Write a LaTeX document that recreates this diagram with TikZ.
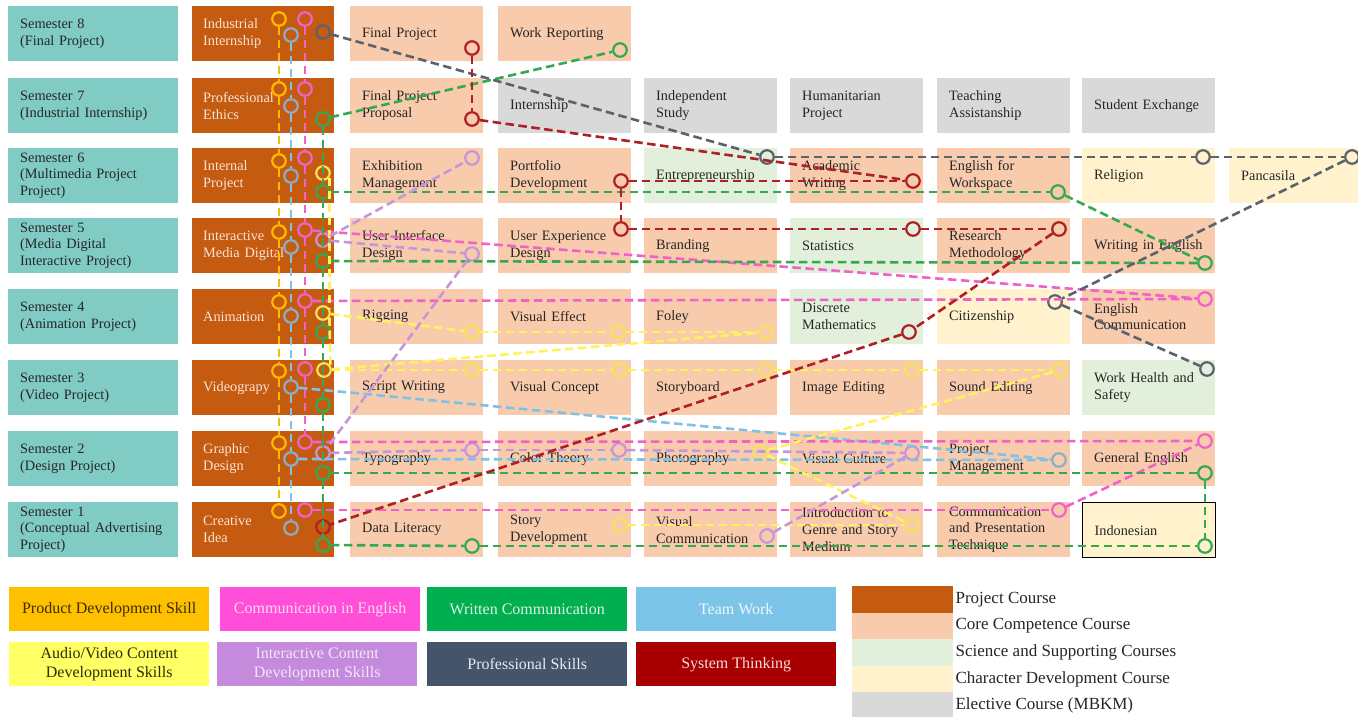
\documentclass[tikz,border=0pt]{standalone}
\usepackage{fontspec}
\setmainfont{Liberation Serif}
\definecolor{semc}{HTML}{80CBC4}
\definecolor{projc}{HTML}{C55A11}
\definecolor{projtxt}{HTML}{FBE5D6}
\definecolor{corec}{HTML}{F8CBAD}
\definecolor{scic}{HTML}{E2EFDA}
\definecolor{charc}{HTML}{FFF2CC}
\definecolor{elec}{HTML}{D9D9D9}
\definecolor{txt}{HTML}{262626}
\definecolor{lorange}{HTML}{FFBA00}
\definecolor{lblue}{HTML}{7EC3E6}
\definecolor{bcirc}{HTML}{8AAFC4}
\definecolor{lpink}{HTML}{F062C8}
\definecolor{lgreen}{HTML}{35A852}
\definecolor{lyellow}{HTML}{FFF25C}
\definecolor{ycirc}{HTML}{F3E35A}
\definecolor{lpurple}{HTML}{C597DA}
\definecolor{lgray}{HTML}{59636E}
\definecolor{lred}{HTML}{AE2024}
\definecolor{kProd}{HTML}{FFC000}
\definecolor{kComm}{HTML}{FF4FD8}
\definecolor{kWrit}{HTML}{00B050}
\definecolor{kTeam}{HTML}{7CC4E8}
\definecolor{kAV}{HTML}{FFFF66}
\definecolor{kInt}{HTML}{C48BDC}
\definecolor{kProf}{HTML}{44546A}
\definecolor{kSys}{HTML}{A80000}
\definecolor{tProd}{HTML}{3D2B00}
\definecolor{tComm}{HTML}{FFD8F4}
\definecolor{tWrit}{HTML}{DDF3E2}
\definecolor{tTeam}{HTML}{EEF8FD}
\definecolor{tAV}{HTML}{2E2E00}
\definecolor{tInt}{HTML}{F3E6FA}
\definecolor{tProf}{HTML}{E8EBF0}
\definecolor{tSys}{HTML}{FADADA}
\newcommand\crsfont{\fontsize{14.3}{16.8}\selectfont}
\newcommand\lgfont{\fontsize{16}{18.5}\selectfont}
\tikzset{
  bx/.style={anchor=north west, minimum height=55pt, inner xsep=12pt, inner ysep=0pt, align=left, text=txt, font=\crsfont},
  cw/.style={minimum width=133pt, text width=109pt},
  semb/.style={bx, fill=semc, minimum width=170pt, text width=146pt},
  projb/.style={bx, fill=projc, minimum width=142pt, text width=120pt, inner xsep=11pt, text=projtxt},
  core/.style={bx, cw, fill=corec},
  sci/.style={bx, cw, fill=scic},
  chr/.style={bx, cw, fill=charc},
  ele/.style={bx, cw, fill=elec},
  ln/.style={line width=2.6pt, dash pattern=on 8.5pt off 4.5pt},
  ring/.style={circle, draw=#1, line width=2.2pt, minimum size=13.5pt, inner sep=0pt},
  lgbox/.style={anchor=north west, minimum width=200pt, minimum height=44pt, inner sep=0pt, align=center, font=\lgfont},
  sw/.style={anchor=north west, minimum width=101pt, minimum height=26.5pt, inner sep=0pt},
  swt/.style={anchor=west, inner sep=0pt, font=\fontsize{17}{19}\selectfont, text=txt},
}
\begin{document}
\begin{tikzpicture}[x=1pt, y=-1pt]
\useasboundingbox[fill=white] (0,0) rectangle (1358,716);
% semester boxes
\node[semb] (s8) at (8,6) {Semester 8\\(Final Project)};
\node[semb] (s7) at (8,78) {Semester 7\\(Industrial Internship)};
\node[semb] (s6) at (8,148) {Semester 6\\(Multimedia Project\\Project)};
\node[semb] (s5) at (8,218) {Semester 5\\(Media Digital\\Interactive Project)};
\node[semb] (s4) at (8,289) {Semester 4\\(Animation Project)};
\node[semb] (s3) at (8,360) {Semester 3\\(Video Project)};
\node[semb] (s2) at (8,431) {Semester 2\\(Design Project)};
\node[semb] (s1) at (8,502) {Semester 1\\(Conceptual Advertising\\Project)};
% project boxes
\node[projb] (j8) at (192,6) {Industrial\\Internship};
\node[projb] (j7) at (192,78) {Professional\\Ethics};
\node[projb] (j6) at (192,148) {Internal\\Project};
\node[projb] (j5) at (192,218) {Interactive\\Media Digital};
\node[projb] (j4) at (192,289) {Animation};
\node[projb] (j3) at (192,360) {Videograpy};
\node[projb] (j2) at (192,431) {Graphic\\Design};
\node[projb] (j1) at (192,502) {Creative\\Idea};
% row 8
\node[core] (c81) at (350,6) {Final Project};
\node[core] (c82) at (498,6) {Work Reporting};
% row 7
\node[core] (c71) at (350,78) {Final Project\\Proposal};
\node[ele] (c72) at (498,78) {Internship};
\node[ele] (c73) at (644,78) {Independent\\Study};
\node[ele] (c74) at (790,78) {Humanitarian\\Project};
\node[ele] (c75) at (937,78) {Teaching\\Assistanship};
\node[ele] (c76) at (1082,78) {Student Exchange};
% row 6
\node[core] (c61) at (350,148) {Exhibition\\Management};
\node[core] (c62) at (498,148) {Portfolio\\Development};
\node[sci] (c63) at (644,148) {Entrepreneurship};
\node[core] (c64) at (790,148) {Academic\\Writing};
\node[core] (c65) at (937,148) {English for\\Workspace};
\node[chr] (c66) at (1082,148) {Religion};
\node[chr, minimum width=129pt, text width=105pt] (c67) at (1229,148) {Pancasila};
% row 5
\node[core] (c51) at (350,218) {User Interface\\Design};
\node[core] (c52) at (498,218) {User Experience\\Design};
\node[core] (c53) at (644,218) {Branding};
\node[sci] (c54) at (790,218) {Statistics};
\node[core] (c55) at (937,218) {Research\\Methodology};
\node[core] (c56) at (1082,218) {Writing in English};
% row 4
\node[core] (c41) at (350,289) {Rigging};
\node[core] (c42) at (498,289) {Visual Effect};
\node[core] (c43) at (644,289) {Foley};
\node[sci] (c44) at (790,289) {Discrete\\Mathematics};
\node[chr] (c45) at (937,289) {Citizenship};
\node[core] (c46) at (1082,289) {English\\Communication};
% row 3
\node[core] (c31) at (350,360) {Script Writing};
\node[core] (c32) at (498,360) {Visual Concept};
\node[core] (c33) at (644,360) {Storyboard};
\node[core] (c34) at (790,360) {Image Editing};
\node[core] (c35) at (937,360) {Sound Editing};
\node[sci] (c36) at (1082,360) {Work Health and\\Safety};
% row 2
\node[core] (c21) at (350,431) {Typography};
\node[core] (c22) at (498,431) {Color Theory};
\node[core] (c23) at (644,431) {Photography};
\node[core] (c24) at (790,431) {Visual Culture};
\node[core] (c25) at (937,431) {Project\\Management};
\node[core] (c26) at (1082,431) {General English};
% row 1
\node[core] (c11) at (350,502) {Data Literacy};
\node[core] (c12) at (498,502) {Story\\Development};
\node[core] (c13) at (644,502) {Visual\\Communication};
\node[core] (c14) at (790,502) {Introduction to\\Genre and Story\\Medium};
\node[core] (c15) at (937,502) {Communication\\and Presentation\\Technique};
\node[chr, draw=black, line width=1.2pt] (c16) at (1082,502) {Indonesian};

% ---------- circles in project column
\foreach \n/\y in {8/19,7/89,6/161,5/232,4/302,3/371,2/443,1/511}
  \node[ring=lorange] (o\n) at (279,\y) {};
\foreach \n/\y in {8/35,7/106,6/176,5/247,4/316,3/387,2/459,1/528}
  \node[ring=bcirc] (b\n) at (291,\y) {};
\foreach \n/\y in {8/19,7/89,6/158,5/230,4/301,3/369,2/442,1/510}
  \node[ring=lpink] (p\n) at (305,\y) {};
\foreach \n/\y in {7/119,6/192,5/261,4/332,3/405,2/473,1/545}
  \node[ring=lgreen] (g\n) at (323,\y) {};
\node[ring=ycirc] (y6) at (323,173) {};
\node[ring=ycirc] (y4) at (323,313) {};
\node[ring=ycirc] (y3) at (324,370) {};
\node[ring=lpurple] (u5) at (323,240) {};
\node[ring=lpurple] (u2) at (323,453) {};
\node[ring=lgray] (k8) at (323,32) {};
\node[ring=lred] (r1) at (323,527) {};

% ---------- circles in course boxes
\node[ring=lred] (rFP) at (472,48) {};
\node[ring=lgreen] (gWR) at (620,50) {};
\node[ring=lred] (rFPP) at (472,119) {};
\node[ring=lpurple] (uEM) at (472,158) {};
\node[ring=lred] (rPD) at (621,181) {};
\node[ring=lgray] (kEN) at (767,157) {};
\node[ring=lred] (rAW) at (913,181) {};
\node[ring=lgreen] (gEW) at (1058,192) {};
\node[ring=lgray] (kRE) at (1203,157) {};
\node[ring=lgray] (kPA) at (1352,157) {};
\node[ring=lpurple] (uUI) at (472,254) {};
\node[ring=lred] (rUX) at (621,229) {};
\node[ring=lred] (rST) at (913,229) {};
\node[ring=lred] (rRM) at (1059,229) {};
\node[ring=lgreen] (gWE) at (1205,263) {};
\node[ring=ycirc] (yRG) at (472,332) {};
\node[ring=ycirc] (yVE) at (618,332) {};
\node[ring=ycirc] (yFO) at (766,332) {};
\node[ring=lred] (rDM) at (909,332) {};
\node[ring=lgray] (kCI) at (1055,302) {};
\node[ring=lpink] (pEC) at (1205,299) {};
\node[ring=ycirc] (ySW) at (472,370) {};
\node[ring=ycirc] (yVC) at (620,370) {};
\node[ring=ycirc] (ySB) at (766,370) {};
\node[ring=ycirc] (yIE) at (912,370) {};
\node[ring=ycirc] (ySE) at (1060,370) {};
\node[ring=lgray] (kWH) at (1207,369) {};
\node[ring=lpurple] (uTY) at (472,450) {};
\node[ring=lpurple] (uCT) at (619,450) {};
\node[ring=ycirc] (yPH) at (760,452) {};
\node[ring=lpurple] (uVU) at (912,453) {};
\node[ring=bcirc] (bPM) at (1059,460) {};
\node[ring=lpink] (pGE) at (1205,441) {};
\node[ring=lgreen] (gGE) at (1205,473) {};
\node[ring=ycirc] (ySD) at (620,525) {};
\node[ring=lpurple] (uVM) at (767,536) {};
\node[ring=ycirc] (yIG) at (912,525) {};
\node[ring=lpink] (pCP) at (1059,510) {};
\node[ring=lgreen] (gDL) at (472,546) {};
\node[ring=lgreen] (gIN) at (1205,546) {};

% ---------- connectors
% product development (orange)
\foreach \a/\b in {8/7,7/6,6/5,5/4,4/3,3/2,2/1}
  \draw[ln, lorange] (o\a) -- (o\b);
% team work (blue)
\foreach \a/\b in {8/7,7/6,6/5,5/4,4/3,3/2,2/1}
  \draw[ln, lblue] (b\a) -- (b\b);
\draw[ln, lblue] (b3) -- (bPM);
\draw[ln, lblue] (b2) -- (bPM);
% communication in English (pink)
\foreach \a/\b in {8/7,7/6,6/5,5/4,4/3,3/2}
  \draw[ln, lpink] (p\a) -- (p\b);
\draw[ln, lpink] (p5) -- (pEC);
\draw[ln, lpink] (p4) -- (pEC);
\draw[ln, lpink] (p2) -- (pGE);
\draw[ln, lpink] (p1) -- (pCP);
\draw[ln, lpink] (pCP) -- (pGE);
% written communication (green)
\foreach \a/\b in {7/6,6/5,5/4,4/3,3/2,2/1}
  \draw[ln, lgreen] (g\a) -- (g\b);
\draw[ln, lgreen] (g7) -- (gWR);
\draw[ln, lgreen] (g6) -- (gEW);
\draw[ln, lgreen] (gEW) -- (gWE);
\draw[ln, lgreen] (g5) -- (gWE);
\draw[ln, lgreen] (g2) -- (gGE);
\draw[ln, lgreen] (g1) -- (gDL);
\draw[ln, lgreen] (gDL) -- (gIN);
\draw[ln, lgreen] (gGE) -- (gIN);
% audio/video (yellow)
\draw[ln, lyellow] (y6.-35) -- (y4.35);
\draw[ln, lyellow] (y4.-35) -- (y3.35);
\draw[ln, lyellow] (y4) -- (yRG);
\draw[ln, lyellow] (yRG) -- (yVE);
\draw[ln, lyellow] (yVE) -- (yFO);
\draw[ln, lyellow] (y3) -- (yFO);
\draw[ln, lyellow] (y3) -- (ySW);
\draw[ln, lyellow] (ySW) -- (yVC);
\draw[ln, lyellow] (yVC) -- (ySB);
\draw[ln, lyellow] (ySB) -- (yIE);
\draw[ln, lyellow] (yIE) -- (ySE);
\draw[ln, lyellow] (ySE) -- (yPH);
\draw[ln, lyellow] (yPH) -- (yIG);
\draw[ln, lyellow] (ySD) -- (yIG);
% interactive content (purple)
\draw[ln, lpurple] (u5) -- (uEM);
\draw[ln, lpurple] (u5) -- (uUI);
\draw[ln, lpurple] (uUI) -- (u2);
\draw[ln, lpurple] (u2) -- (uTY);
\draw[ln, lpurple] (uTY) -- (uCT);
\draw[ln, lpurple] (uCT) -- (uVU);
\draw[ln, lpurple] (uVU) -- (uVM);
% professional skills (gray)
\draw[ln, lgray] (k8) -- (kEN);
\draw[ln, lgray] (kEN) -- (kRE);
\draw[ln, lgray] (kRE) -- (kPA);
\draw[ln, lgray] (kPA) -- (kCI);
\draw[ln, lgray] (kCI) -- (kWH);
% system thinking (red)
\draw[ln, lred] (rFP) -- (rFPP);
\draw[ln, lred] (rFPP) -- (rAW);
\draw[ln, lred] (rPD) -- (rAW);
\draw[ln, lred] (rPD) -- (rUX);
\draw[ln, lred] (rUX) -- (rST);
\draw[ln, lred] (rST) -- (rRM);
\draw[ln, lred] (rRM) -- (rDM);
\draw[ln, lred] (rDM) -- (r1);

% ---------- legend (skills)
\node[lgbox, fill=kProd, text=tProd] (l1) at (9,587) {Product Development Skill};
\node[lgbox, fill=kComm, text=tComm] (l2) at (220,587) {Communication in English};
\node[lgbox, fill=kWrit, text=tWrit] (l3) at (427,587) {Written Communication};
\node[lgbox, fill=kTeam, text=tTeam] (l4) at (636,587) {Team Work};
\node[lgbox, fill=kAV, text=tAV] (l5) at (9,642) {Audio/Video Content\\Development Skills};
\node[lgbox, fill=kInt, text=tInt] (l6) at (217,642) {Interactive Content\\Development Skills};
\node[lgbox, fill=kProf, text=tProf] (l7) at (427,642) {Professional Skills};
\node[lgbox, fill=kSys, text=tSys] (l8) at (636,642) {System Thinking};

% ---------- legend (course types)
\node[sw, fill=projc] (w1) at (852,586) {};
\node[sw, fill=corec] (w2) at (852,612.5) {};
\node[sw, fill=scic] (w3) at (852,639) {};
\node[sw, fill=charc] (w4) at (852,665.5) {};
\node[sw, fill=elec] (w5) at (852,692) {};
\node[swt] (t1) at ([xshift=2pt]w1.east) {Project Course};
\node[swt] (t2) at ([xshift=2pt]w2.east) {Core Competence Course};
\node[swt] (t3) at ([xshift=2pt]w3.east) {Science and Supporting Courses};
\node[swt] (t4) at ([xshift=2pt]w4.east) {Character Development Course};
\node[swt] (t5) at ([xshift=2pt]w5.east) {Elective Course (MBKM)};
\end{tikzpicture}
\end{document}
